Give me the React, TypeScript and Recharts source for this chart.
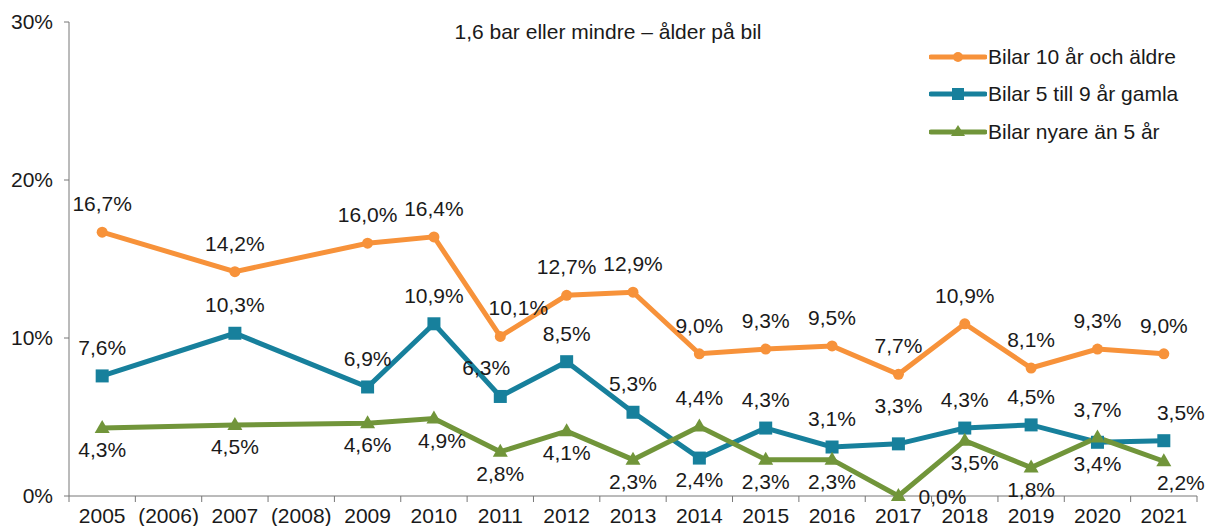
import React from 'react';
import { LineChart, Line, XAxis, YAxis, LabelList } from 'recharts';

const years = ['2005', '(2006)', '2007', '(2008)', '2009', '2010', '2011', '2012', '2013', '2014', '2015', '2016', '2017', '2018', '2019', '2020', '2021'];
const older = [16.7, null, 14.2, null, 16.0, 16.4, 10.1, 12.7, 12.9, 9.0, 9.3, 9.5, 7.7, 10.9, 8.1, 9.3, 9.0];
const middle = [7.6, null, 10.3, null, 6.9, 10.9, 6.3, 8.5, 5.3, 2.4, 4.3, 3.1, 3.3, 4.3, 4.5, 3.4, 3.5];
const newer = [4.3, null, 4.5, null, 4.6, 4.9, 2.8, 4.1, 2.3, 4.4, 2.3, 2.3, 0.0, 3.5, 1.8, 3.7, 2.2];
const yTicks = [0, 10, 20, 30];

const seriesNames = ['Bilar 10 år och äldre', 'Bilar 5 till 9 år gamla', 'Bilar nyare än 5 år'];
const title = '1,6 bar eller mindre – ålder på bil';

const data = years.map((year, i) => ({ year, older: older[i], middle: middle[i], newer: newer[i] }));

const ORANGE = '#F7923A';
const BLUE = '#17809C';
const GREEN = '#71953A';
const FONT = '"Liberation Sans", Arial, Helvetica, sans-serif';

const W = 1206;
const H = 526;
const LEFT = 69;
const RIGHT = 1197;
const BAND = (RIGHT - LEFT) / years.length;

const fmt = (v: number) => v.toFixed(1).replace('.', ',') + '%';

// which points get their label below (or above for green) the marker
const blueBelow = [9, 15];
const greenAbove = [9, 15];
// small nudges for labels that sit off-centre in the original
const labelShift: Record<string, [number, number]> = {
  'newer-12': [44, -21],
  'newer-16': [17, 0],
  'middle-16': [17, 0],
  'older-6': [18, 0],
  'middle-6': [-14, 0],
  'middle-12': [0, -10],
  'newer-5': [8, 0],
  'newer-13': [10, 0],
};

function makeLabel(key: string, isBelow: (i: number) => boolean) {
  return (props: any) => {
    const { x, y, value, index } = props;
    if (value === null || value === undefined) return null;
    const below = isBelow(index);
    const [dx, dy] = labelShift[`${key}-${index}`] || [0, 0];
    return (
      <text
        x={x + dx}
        y={(below ? y + 29 : y - 21) + dy}
        textAnchor="middle"
        fontSize={21}
        fontFamily={FONT}
        fill="#1a1a1a"
      >
        {fmt(value)}
      </text>
    );
  };
}

const circleDot = (props: any) => {
  const { cx, cy, index } = props;
  if (cy == null || cx == null) return <g key={`c${index}`} />;
  return <circle key={`c${index}`} cx={cx} cy={cy} r={5.5} fill={ORANGE} />;
};

const squareDot = (props: any) => {
  const { cx, cy, index } = props;
  if (cy == null || cx == null) return <g key={`s${index}`} />;
  return <rect key={`s${index}`} x={cx - 6.5} y={cy - 6.5} width={13} height={13} fill={BLUE} />;
};

const triDot = (props: any) => {
  const { cx, cy, index } = props;
  if (cy == null || cx == null) return <g key={`t${index}`} />;
  return <path key={`t${index}`} d={`M${cx},${cy - 8} L${cx + 7.5},${cy + 5} L${cx - 7.5},${cy + 5} Z`} fill={GREEN} />;
};

const XTick = (props: any) => {
  const { x, y, payload, index } = props;
  const left = x - BAND / 2;
  return (
    <g>
      <line x1={left} y1={y - 8} x2={left} y2={y - 2} stroke="#777" />
      {index === years.length - 1 && <line x1={x + BAND / 2} y1={y - 8} x2={x + BAND / 2} y2={y - 2} stroke="#777" />}
      <text x={x} y={y + 19} textAnchor="middle" fontSize={21} fontFamily={FONT} fill="#1a1a1a">
        {payload.value}
      </text>
    </g>
  );
};

function LegendRow({ color, label, marker }: { color: string; label: string; marker: string }) {
  return (
    <div style={{ display: 'flex', alignItems: 'center', height: 37.5 }}>
      <svg width={58} height={16} style={{ marginRight: 1 }}>
        <line x1={2} y1={8} x2={56} y2={8} stroke={color} strokeWidth={5} strokeLinecap="round" />
        {marker === 'circle' && <circle cx={29} cy={8} r={5} fill={color} />}
        {marker === 'square' && <rect x={23} y={2} width={12} height={12} fill={color} />}
        {marker === 'tri' && <path d="M29,1 L36,12 L22,12 Z" fill={color} />}
      </svg>
      <span style={{ fontSize: 21, fontFamily: FONT, color: '#1a1a1a', whiteSpace: 'nowrap' }}>{label}</span>
    </div>
  );
}

export default function App() {
  return (
    <div style={{ position: 'absolute', left: 0, top: 0, width: W, height: H, background: '#fff', overflow: 'hidden' }}>
      <LineChart width={W} height={H} data={data} margin={{ top: 22, right: W - RIGHT, bottom: 0, left: 9 }}>
        <XAxis
          dataKey="year"
          interval={0}
          tickLine={false}
          axisLine={{ stroke: '#777' }}
          tick={<XTick />}
          height={30}
          padding={{ left: BAND / 2, right: BAND / 2 }}
        />
        <YAxis
          domain={[0, 30]}
          ticks={yTicks}
          width={60}
          tickSize={5}
          tickMargin={11}
          tickLine={{ stroke: '#777' }}
          axisLine={{ stroke: '#777' }}
          tickFormatter={(v: number) => `${v}%`}
          tick={{ fontSize: 21, fontFamily: FONT, fill: '#1a1a1a' }}
        />
        <Line dataKey="older" name={seriesNames[0]} stroke={ORANGE} strokeWidth={5} connectNulls dot={circleDot} activeDot={false} isAnimationActive={false}>
          <LabelList dataKey="older" content={makeLabel('older', () => false)} />
        </Line>
        <Line dataKey="middle" name={seriesNames[1]} stroke={BLUE} strokeWidth={5} connectNulls dot={squareDot} activeDot={false} isAnimationActive={false}>
          <LabelList dataKey="middle" content={makeLabel('middle', (i) => blueBelow.includes(i))} />
        </Line>
        <Line dataKey="newer" name={seriesNames[2]} stroke={GREEN} strokeWidth={5} connectNulls dot={triDot} activeDot={false} isAnimationActive={false}>
          <LabelList dataKey="newer" content={makeLabel('newer', (i) => !greenAbove.includes(i))} />
        </Line>
      </LineChart>
      <div style={{ position: 'absolute', left: 408, top: 20, width: 400, textAlign: 'center', fontSize: 21, fontFamily: FONT, color: '#1a1a1a', whiteSpace: 'nowrap' }}>
        {title}
      </div>
      <div style={{ position: 'absolute', left: 929, top: 38 }}>
        <LegendRow color={ORANGE} label={seriesNames[0]} marker="circle" />
        <LegendRow color={BLUE} label={seriesNames[1]} marker="square" />
        <LegendRow color={GREEN} label={seriesNames[2]} marker="tri" />
      </div>
    </div>
  );
}
